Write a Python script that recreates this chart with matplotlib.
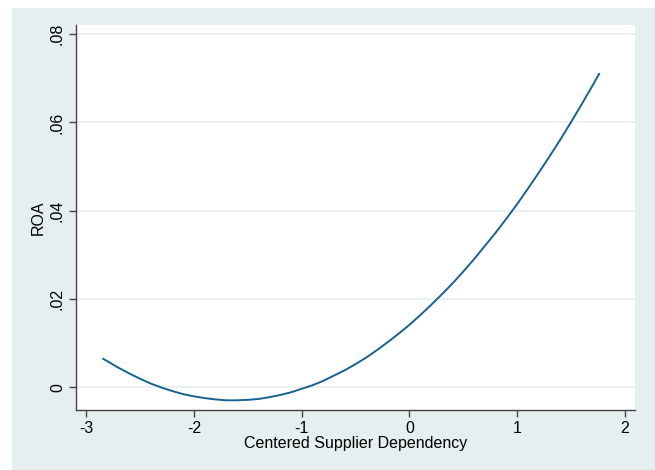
import matplotlib
matplotlib.use('Agg')
import matplotlib.pyplot as plt
from matplotlib.patches import Rectangle

plt.rcParams['font.family'] = ['Liberation Sans', 'DejaVu Sans']

# values
dependency = [-2.84, -2.7, -2.6, -2.5, -2.4, -2.3, -2.2, -2.1, -2.0, -1.9, -1.8, -1.7,
              -1.6, -1.5, -1.4, -1.3, -1.2, -1.1, -1.0, -0.9, -0.8, -0.7, -0.6, -0.5,
              -0.4, -0.3, -0.2, -0.1, 0.0, 0.1, 0.2, 0.3, 0.4, 0.5, 0.6, 0.7,
              0.8, 0.9, 1.0, 1.1, 1.2, 1.3, 1.4, 1.5, 1.6, 1.7, 1.76]
roa = [0.0064, 0.0044, 0.0031, 0.0019, 0.0008, -0.0001, -0.0009, -0.0016, -0.0021, -0.0025,
       -0.0028, -0.0030, -0.0030, -0.0029, -0.0027, -0.0023, -0.0018, -0.0012, -0.0004,
       0.0004, 0.0014, 0.0026, 0.0038, 0.0052, 0.0067, 0.0084, 0.0102, 0.0121, 0.0141,
       0.0163, 0.0186, 0.0210, 0.0235, 0.0262, 0.0290, 0.0320, 0.0350, 0.0382, 0.0415,
       0.0450, 0.0486, 0.0523, 0.0561, 0.0601, 0.0642, 0.0684, 0.0710]

x_ticks = [-3, -2, -1, 0, 1, 2]
y_ticks = [0, 0.02, 0.04, 0.06, 0.08]
y_labels = ['0', '.02', '.04', '.06', '.08']

W, H = 655, 470
fig = plt.figure(figsize=(W / 100, H / 100), dpi=100)
fig.patch.set_facecolor('white')
# stata-style light background panel
fig.patches.append(Rectangle((12 / W, 0), 1 - 12 / W, 1 - 8 / H, transform=fig.transFigure,
                             facecolor='#e5eff0', edgecolor='none', zorder=-10))

ax = fig.add_axes([76 / W, 60 / H, (635 - 76) / W, (410 - 25) / H])
ax.set_zorder(1)
ax.set_facecolor('white')
ax.plot(dependency, roa, color='#18628f', lw=1.4, solid_joinstyle='round')

ax.set_xlim(-3.093, 2.093)
ax.set_ylim(-0.0052, 0.0821)
ax.set_xticks(x_ticks)
ax.set_xticklabels([str(t) for t in x_ticks])
ax.set_yticks(y_ticks)
ax.set_yticklabels(y_labels, rotation=90, va='center')
ax.yaxis.grid(True, color='#e5eff0', lw=1.2)
ax.set_axisbelow(True)

for s in ['top', 'right']:
    ax.spines[s].set_visible(False)
for s in ['left', 'bottom']:
    ax.spines[s].set_color('#444444')
    ax.spines[s].set_linewidth(1.0)
ax.tick_params(length=5, width=1, color='#444444', labelsize=11.5, pad=3)

ax.set_xlabel('Centered Supplier Dependency', fontsize=11.5, labelpad=0)
ax.set_ylabel('ROA', fontsize=11.5, labelpad=3)

fig.savefig('out.png', dpi=100)
